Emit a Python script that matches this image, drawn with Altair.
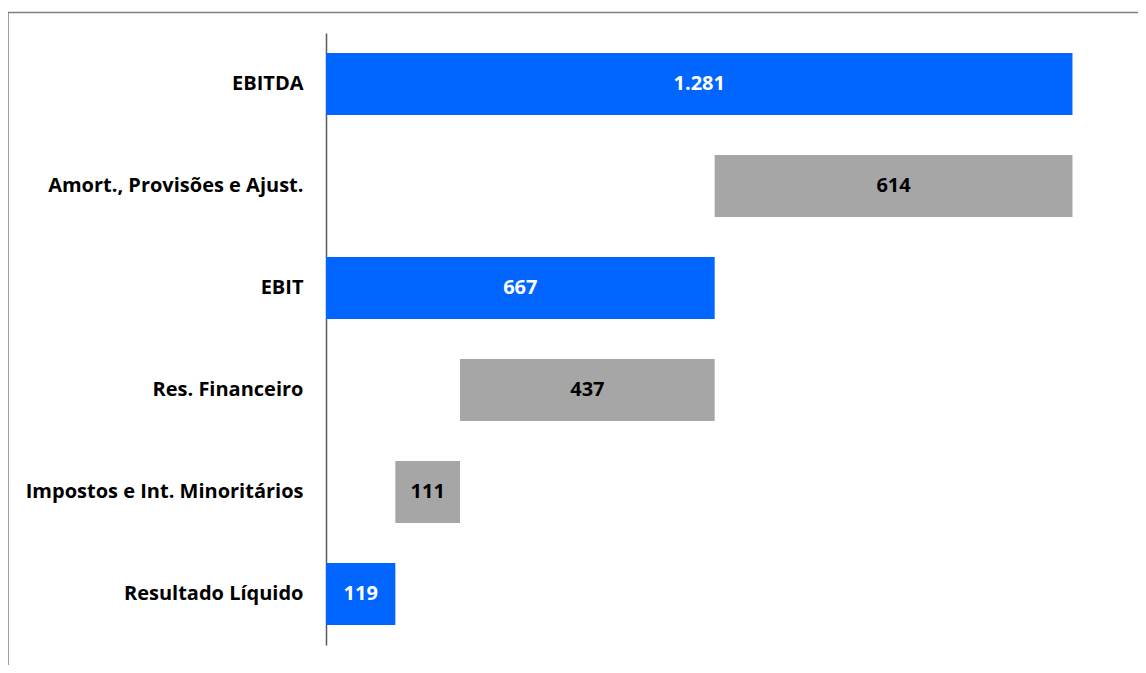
import altair as alt
import pandas as pd

categories = ["EBITDA", "Amort., Provisões e Ajust.", "EBIT", "Res. Financeiro",
              "Impostos e Int. Minoritários", "Resultado Líquido"]
values = [1281, 614, 667, 437, 111, 119]
kinds = ["total", "delta", "total", "delta", "delta", "total"]
starts = [0, 667, 0, 230, 119, 0]
ends = [1281, 1281, 667, 667, 230, 119]

df = pd.DataFrame({"cat": categories, "value": values, "kind": kinds,
                   "start": starts, "end": ends})

FONT = "Open Sans"
xscale = alt.Scale(domain=[0, 1390], nice=False, zero=False)
yscale = alt.Scale(paddingInner=0.39, paddingOuter=0.195)

ycat = alt.Y("cat:N", sort=categories, scale=yscale,
             axis=alt.Axis(title=None, ticks=False, grid=False, domain=True,
                           domainColor="#595959", domainWidth=1.5,
                           labelFont=FONT, labelFontSize=20, labelFontWeight="bold",
                           labelColor="#000000", labelPadding=23, labelLimit=400))

bars = alt.Chart(df).mark_bar(stroke=None).encode(
    y=ycat,
    x=alt.X("start:Q", scale=xscale, axis=None),
    x2="end:Q",
    color=alt.Color("kind:N", scale=alt.Scale(domain=["total", "delta"],
                                              range=["#0066FF", "#A6A6A6"]), legend=None),
)

labels = alt.Chart(df).transform_calculate(
    mid="(datum.start + datum.end) / 2",
    txt="replace(format(datum.value, ','), ',', '.')",
).mark_text(font=FONT, fontSize=20, fontWeight="bold", align="center", baseline="middle").encode(
    y=alt.Y("cat:N", sort=categories, scale=yscale),
    x=alt.X("mid:Q", scale=xscale),
    text="txt:N",
    color=alt.condition(alt.datum.kind == "total", alt.value("#FFFFFF"), alt.value("#000000")),
)

frame_df = pd.DataFrame({"a": [0]})
top_line = alt.Chart(frame_df).mark_rule(color="#7F7F7F", strokeWidth=1.5).encode(
    x=alt.value(-318), x2=alt.value(830), y=alt.value(-20.5))
left_line = alt.Chart(frame_df).mark_rule(color="#7F7F7F", strokeWidth=1.5).encode(
    x=alt.value(-318), y=alt.value(-20.5), y2=alt.value(660))

chart = alt.layer(top_line, left_line, bars, labels).properties(
    width=810, height=612,
    autosize="none",
    background="white",
    padding={"left": 318, "top": 25, "right": 2, "bottom": 20},
).configure_view(strokeWidth=0, stroke="transparent")

chart.save("out.html", embed_options={"renderer": "svg", "actions": False})
